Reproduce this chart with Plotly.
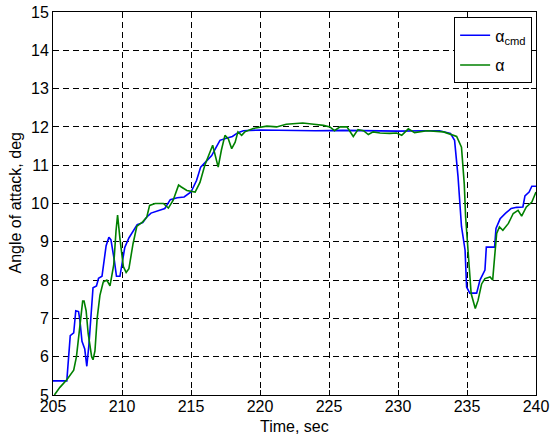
import plotly.graph_objects as go

# alpha_cmd (blue)
t_cmd = [205.0, 206.0, 206.25, 206.5, 206.65, 206.85, 206.95, 207.1, 207.3, 207.45,
         207.6, 207.75, 207.9, 208.15, 208.3, 208.55, 208.85, 209.05, 209.2, 209.45,
         209.6, 209.85, 210.05, 210.2, 210.5, 210.9, 211.1, 211.5, 211.8, 212.1,
         212.6, 213.1, 213.5, 214.0, 214.5, 215.0, 215.4, 215.7, 216.1, 216.5,
         216.8, 217.1, 217.5, 218.0, 218.4, 218.8, 220.0, 222.0, 224.0, 226.0,
         228.0, 230.0, 232.0, 233.0, 233.8, 234.1, 234.35, 234.6, 234.86, 234.97,
         235.2, 235.7, 235.94, 236.3, 236.4, 237.0, 237.1, 237.4, 237.8, 238.2,
         238.6, 239.05, 239.2, 239.5, 239.7, 240.0]
a_cmd = [5.37, 5.37, 6.55, 6.62, 7.2, 7.18, 6.95, 6.4, 6.2, 5.75,
         6.3, 7.1, 7.8, 7.85, 8.05, 8.1, 8.9, 9.12, 9.05, 8.5,
         8.1, 8.1, 8.6, 8.85, 9.1, 9.35, 9.45, 9.5, 9.65, 9.75,
         9.8, 9.87, 10.1, 10.15, 10.17, 10.3, 10.6, 10.95, 11.1, 11.25,
         11.45, 11.65, 11.7, 11.75, 11.85, 11.9, 11.92, 11.91, 11.9, 11.91,
         11.9, 11.89, 11.9, 11.9, 11.83, 11.65, 10.7, 9.4, 8.78, 7.82,
         7.66, 7.66, 8.0, 8.26, 8.86, 8.86, 9.35, 9.6, 9.75, 9.87,
         9.9, 9.91, 10.2, 10.3, 10.45, 10.45]

# alpha (green)
t_alpha = [205.1, 205.5, 206.0, 206.3, 206.5, 206.7, 206.9, 207.15, 207.25, 207.4,
           207.55, 207.8, 207.9, 208.04, 208.2, 208.4, 208.64, 208.9, 209.13, 209.4,
           209.57, 209.68, 209.86, 210.1, 210.3, 210.5, 210.8, 211.07, 211.5, 211.8,
           212.0, 212.4, 213.0, 213.36, 213.7, 214.1, 214.3, 214.7, 215.3, 215.65,
           216.0, 216.4, 216.57, 216.97, 217.2, 217.46, 217.7, 217.95, 218.2, 218.4,
           218.67, 218.9, 219.5, 220.5, 221.2, 221.9, 223.1, 223.9, 224.6, 225.07,
           225.4, 225.8, 226.3, 226.76, 227.1, 227.5, 227.85, 228.2, 228.7, 229.4,
           229.9, 230.27, 230.75, 231.2, 232.1, 233.3, 234.25, 234.6, 234.8, 234.9,
           235.1, 235.3, 235.6, 235.8, 236.06, 236.3, 236.67, 236.86, 237.0, 237.15,
           237.35, 237.6, 238.0, 238.35, 238.7, 238.96, 239.3, 239.7, 240.0]
a_alpha = [5.0, 5.2, 5.4, 5.55, 5.65, 6.0, 6.6, 7.45, 7.45, 7.2,
           6.6, 6.0, 5.92, 6.15, 7.0, 7.6, 7.95, 8.0, 7.85, 8.4,
           9.3, 9.7, 9.05, 8.35, 8.2, 8.3, 8.95, 9.4, 9.52, 9.65,
           9.95, 10.0, 10.0, 9.88, 10.08, 10.48, 10.43, 10.34, 10.3, 10.55,
           11.0, 11.39, 11.52, 10.95, 11.39, 11.78, 11.69, 11.43, 11.6, 11.87,
           11.78, 11.87, 11.96, 12.02, 12.0, 12.07, 12.1, 12.07, 12.04, 12.0,
           11.9, 12.0, 12.0, 11.75, 11.93, 11.9, 11.8, 11.87, 11.84, 11.83,
           11.84, 11.78, 11.95, 11.85, 11.9, 11.87, 11.75, 11.47, 10.52, 9.65,
           8.6, 7.65, 7.26, 7.47, 7.9, 8.04, 8.08, 8.0, 8.6, 9.22,
           9.39, 9.3, 9.48, 9.74, 9.82, 9.67, 9.91, 10.04, 10.3]

x_ticks = [205, 210, 215, 220, 225, 230, 235, 240]
y_ticks = [5, 6, 7, 8, 9, 10, 11, 12, 13, 14, 15]

fig = go.Figure()
fig.add_trace(go.Scatter(x=t_cmd, y=a_cmd, mode="lines", name="α<sub>cmd</sub>",
                         legendgroup="cmd",
                         line=dict(color="#0000ff", width=1.6)))
fig.add_trace(go.Scatter(x=t_alpha, y=a_alpha, mode="lines", name="α",
                         legendgroup="alpha",
                         line=dict(color="#008000", width=1.6)))

axis_common = dict(
    showline=True, linecolor="black", linewidth=1, mirror="allticks",
    ticks="inside", ticklen=5, tickcolor="black",
    showgrid=True, gridcolor="black", gridwidth=1, griddash="6px,4px",
    zeroline=False, tickfont=dict(size=16, color="black"),
    automargin=False,
)

fig.update_xaxes(range=[205, 240], tickvals=x_ticks, ticklabelstandoff=-3, **axis_common)
fig.update_yaxes(range=[5, 15], tickvals=y_ticks, **axis_common)

# axis titles placed as annotations so they sit where the reference has them
fig.add_annotation(text="Time, sec", xref="paper", yref="paper", x=0.5, y=0,
                   yanchor="middle", yshift=-31, showarrow=False,
                   font=dict(size=16, color="black"))
fig.add_annotation(text="Angle of attack, deg", xref="paper", yref="paper", x=0, y=0.5,
                   xanchor="center", xshift=-38, textangle=-90, showarrow=False,
                   font=dict(size=16, color="black"))

fig.update_layout(
    width=553, height=440,
    margin=dict(l=53, r=17, t=12, b=45),
    paper_bgcolor="white", plot_bgcolor="white",
    font=dict(family="Liberation Sans, Arial, sans-serif", color="black"),
    legend=dict(x=0.992, y=0.986, xanchor="right", yanchor="top",
                bgcolor="white", bordercolor="black", borderwidth=1,
                tracegroupgap=6, font=dict(size=16)),
)

# drop the default 8px page margin so the figure fills the window
fig.write_html("out.html", config={"displayModeBar": False},
               post_script="document.body.style.margin='0';document.body.style.overflow='hidden';")
